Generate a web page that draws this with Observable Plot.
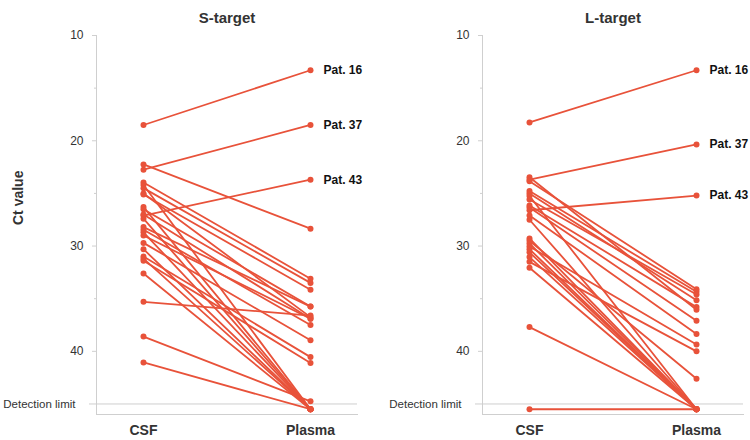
<!DOCTYPE html>
<html>
<head>
<meta charset="utf-8">
<script src="https://cdn.jsdelivr.net/npm/d3@7"></script>
<script src="https://cdn.jsdelivr.net/npm/@observablehq/plot@0.6"></script>
<style>
  body { margin: 0; background: #fff; }
  #chart { display: flex; width: 750px; height: 440px; }
</style>
</head>
<body>
<div id="chart"></div>
<script>
// Paired Ct values per patient (CSF vs plasma), one array per target and specimen.
// Samples below the detection limit are plotted at ND, just under the limit line.
const detectionLimit = 45;
const ND = 45.5;

const specimens = ["CSF", "Plasma"];
const majorTicks = [10, 20, 30, 40];
const minorTicks = [15, 25, 35];

// S-target
const sCsf = [18.5, 22.25, 22.75, 23.96, 24.2, 24.5, 25.0, 25.1, 26.3, 26.5, 27.0, 27.1, 27.4,
  28.2, 28.45, 28.7, 29.0, 29.7, 30.3, 31.0, 31.2, 31.4, 32.6, 35.3, 38.6, 41.05];
const sPlasma = [13.3, 28.35, 18.5, 33.1, ND, 33.5, 36.75, 34.15, ND, 35.75, 36.9, 23.7, ND,
  35.75, 37.5, ND, 36.9, 38.95, ND, 40.55, ND, 41.1, ND, 36.6, 44.75, ND];
const sLabels = ["Pat. 16", null, "Pat. 37", null, null, null, null, null, null, null, null, "Pat. 43"];

// L-target
const lCsf = [18.26, 23.46, 23.7, 23.84, 24.77, 25.0, 25.25, 25.57, 26.14, 26.33, 26.6, 27.1,
  27.5, 29.28, 29.5, 29.75, 30.04, 30.3, 30.6, 31.05, 31.5, 32.06, 37.7, ND];
const lPlasma = [13.3, 36.05, 20.35, 34.1, 34.35, 35.15, ND, 34.6, 35.8, 37.1, 25.2, 38.35,
  ND, ND, 42.6, ND, 39.35, ND, ND, ND, 40.0, ND, ND, ND];
const lLabels = ["Pat. 16", null, "Pat. 37", null, null, null, null, null, null, null, "Pat. 43"];

const FONT = "Arial, 'Liberation Sans', Helvetica, sans-serif";
const RED = "#E8523A";
const AXIS = "#cfcfcf";
const INK = "#333";

function panel(title, csf, plasma, labels, opts) {
  const rows = csf.flatMap((c, i) => [
    {patient: i, specimen: "CSF", ct: c, label: null},
    {patient: i, specimen: "Plasma", ct: plasma[i], label: labels[i] ?? null}
  ]);
  return Plot.plot({
    width: 375,
    height: 440,
    marginTop: 35,
    marginBottom: 26,
    marginLeft: opts.marginLeft,
    marginRight: opts.marginRight,
    style: {fontFamily: FONT, fontSize: "12px", color: INK, background: "white"},
    x: {type: "point", domain: specimens, padding: 0.28},
    y: {domain: [10, 46], reverse: true},
    marks: [
      Plot.frame({anchor: "left", stroke: AXIS}),
      Plot.frame({anchor: "bottom", stroke: AXIS}),
      Plot.ruleY([detectionLimit], {stroke: AXIS}),
      Plot.axisY({ticks: majorTicks, tickSize: 4, tickPadding: 9, stroke: AXIS, fill: INK, label: null}),
      Plot.axisY({ticks: minorTicks, tickSize: 2, tickFormat: () => "", stroke: AXIS, label: null}),
      Plot.axisY({ticks: [detectionLimit], tickSize: 7, tickPadding: 14, tickFormat: () => "Detection limit",
        stroke: AXIS, fill: INK, fontSize: 11.5, label: null}),
      Plot.axisX({tickSize: 0, tickPadding: 11, fontSize: 14, fontWeight: "bold", fill: INK, label: null}),
      Plot.line(rows, {x: "specimen", y: "ct", z: "patient", stroke: RED, strokeWidth: 1.8}),
      Plot.dot(rows, {x: "specimen", y: "ct", r: 3, fill: RED}),
      Plot.text(rows.filter((d) => d.label), {x: "specimen", y: "ct", text: "label", textAnchor: "start",
        dx: 13, fontWeight: "bold", fontSize: 12, fill: "#111"}),
      Plot.text([title], {text: (d) => d, frameAnchor: "top", dy: -23, fontWeight: "bold", fontSize: 15, fill: INK}),
      opts.yLabel
        ? Plot.text([opts.yLabel], {text: (d) => d, frameAnchor: "left", dx: -78, rotate: -90,
            fontWeight: "bold", fontSize: 14, fill: INK})
        : null
    ]
  });
}

const chart = document.getElementById("chart");
chart.append(
  panel("S-target", sCsf, sPlasma, sLabels, {marginLeft: 96, marginRight: 18, yLabel: "Ct value"}),
  panel("L-target", lCsf, lPlasma, lLabels, {marginLeft: 107, marginRight: 7})
);
</script>
</body>
</html>
